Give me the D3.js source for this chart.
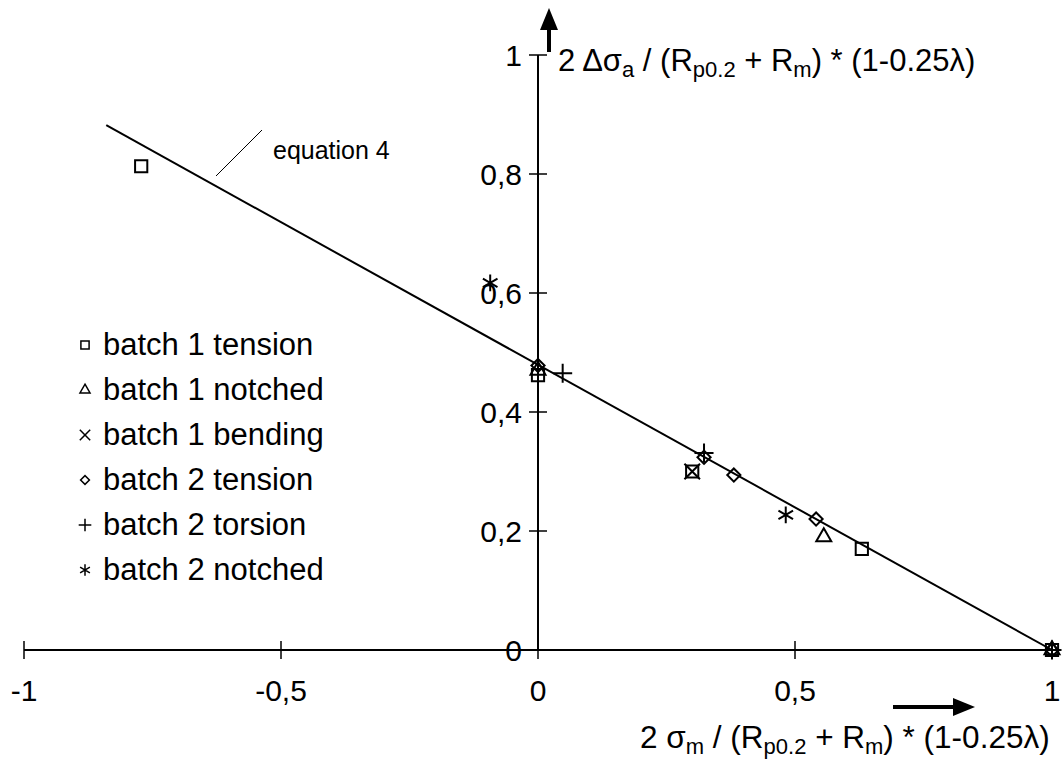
<!DOCTYPE html>
<html>
<head>
<meta charset="utf-8">
<script src="https://cdn.jsdelivr.net/npm/d3@7"></script>
<style>
  body { margin: 0; background: #fff; }
  text { font-family: "Liberation Sans", Arial, sans-serif; fill: #000; }
</style>
</head>
<body>
<svg id="chart"></svg>
<script>
// data
const xTicks = [-1, -0.5, 0, 0.5, 1];
const yTicks = [0, 0.2, 0.4, 0.6, 0.8, 1];

const batch1Tension = [[-0.772, 0.813], [0, 0.462], [0.30, 0.30], [0.63, 0.17], [1, 0]];
const batch1Notched = [[0, 0.47], [0.556, 0.19], [1, 0]];
const batch1Bending = [[0.30, 0.30]];
const batch2Tension = [[0, 0.478], [0.323, 0.324], [0.381, 0.294], [0.541, 0.22], [1, 0]];
const batch2Torsion = [[0.048, 0.465], [0.323, 0.331], [1, 0]];
const batch2Notched = [[-0.093, 0.617], [0.482, 0.227]];

const equationLine = [[-0.84, 0.882], [1, 0]];

const seriesNames = ["batch 1 tension", "batch 1 notched", "batch 1 bending",
                     "batch 2 tension", "batch 2 torsion", "batch 2 notched"];

document.addEventListener('DOMContentLoaded', function() {
    const width = 1063, height = 762;
    const svg = d3.select("#chart").attr("width", width).attr("height", height);

    const x = d3.scaleLinear().domain([-1, 1]).range([24, 1052]);
    const y = d3.scaleLinear().domain([0, 1]).range([650, 55]);
    const fmt = v => String(v).replace(".", ",");

    // x axis
    svg.append("line")
        .attr("x1", x(-1)).attr("x2", x(1))
        .attr("y1", y(0)).attr("y2", y(0))
        .attr("stroke", "#000").attr("stroke-width", 2);
    svg.selectAll(".xtick").data(xTicks).enter().append("line")
        .attr("x1", d => x(d)).attr("x2", d => x(d))
        .attr("y1", y(0) - 9).attr("y2", y(0) + 9)
        .attr("stroke", "#000").attr("stroke-width", 1.5);
    svg.selectAll(".xlab").data(xTicks).enter().append("text")
        .attr("x", d => x(d)).attr("y", 701)
        .attr("text-anchor", "middle")
        .style("font-size", "30px")
        .text(fmt);

    // y axis
    svg.append("line")
        .attr("x1", x(0)).attr("x2", x(0))
        .attr("y1", y(0)).attr("y2", y(1))
        .attr("stroke", "#000").attr("stroke-width", 2);
    svg.selectAll(".ytick").data(yTicks).enter().append("line")
        .attr("x1", x(0) - 9).attr("x2", x(0) + 9)
        .attr("y1", d => y(d)).attr("y2", d => y(d))
        .attr("stroke", "#000").attr("stroke-width", 1.5);
    svg.selectAll(".ylab").data(yTicks).enter().append("text")
        .attr("x", 522).attr("y", d => y(d) + 11)
        .attr("text-anchor", "end")
        .style("font-size", "30px")
        .text(fmt);

    // arrows
    const arrow = (x1, y1, x2, y2) => {
        const ang = Math.atan2(y2 - y1, x2 - x1), L = 22, W = 9;
        const bx = x2 - L * Math.cos(ang), by = y2 - L * Math.sin(ang);
        svg.append("line").attr("x1", x1).attr("y1", y1).attr("x2", bx).attr("y2", by)
            .attr("stroke", "#000").attr("stroke-width", 4);
        svg.append("path")
            .attr("d", `M${x2},${y2}L${bx - W * Math.sin(ang)},${by + W * Math.cos(ang)}L${bx + W * Math.sin(ang)},${by - W * Math.cos(ang)}Z`)
            .attr("fill", "#000");
    };
    arrow(549, 52, 549, 8);
    arrow(893, 707, 975, 707);

    // axis titles, subscripts given as [text]
    const title = (tx, ty, size, parts) => {
        const t = svg.append("text").attr("x", tx).attr("y", ty).style("font-size", size + "px");
        let back = 0;
        parts.forEach(p => {
            if (Array.isArray(p)) {
                t.append("tspan").attr("dy", 6).style("font-size", "22px").text(p[0]);
                back = -6;
            } else {
                t.append("tspan").attr("dy", back).text(p);
                back = 0;
            }
        });
    };
    title(558, 71, 31, ["2 \u0394\u03c3", ["a"], " / (R", ["p0.2"], " + R", ["m"], ") * (1-0.25\u03bb)"]);
    title(640, 748, 31.5, ["2 \u03c3", ["m"], " / (R", ["p0.2"], " + R", ["m"], ") * (1-0.25\u03bb)"]);

    // equation line
    svg.append("path")
        .datum(equationLine)
        .attr("d", d3.line().x(d => x(d[0])).y(d => y(d[1])))
        .attr("fill", "none").attr("stroke", "#000").attr("stroke-width", 2);
    svg.append("line")
        .attr("x1", 216).attr("y1", 176).attr("x2", 262).attr("y2", 130)
        .attr("stroke", "#000").attr("stroke-width", 1);
    svg.append("text").attr("x", 273).attr("y", 159)
        .style("font-size", "25px").text("equation 4");

    // markers
    const shapes = [
        { data: batch1Tension, type: d3.symbolSquare2, size: 190, rot: 0 },
        { data: batch1Notched, type: d3.symbolTriangle2, size: 160, rot: 0 },
        { data: batch1Bending, type: d3.symbolTimes, size: 160, rot: 0 },
        { data: batch2Tension, type: d3.symbolSquare2, size: 110, rot: 45 },
        { data: batch2Torsion, type: d3.symbolPlus, size: 120, rot: 0 },
        { data: batch2Notched, type: d3.symbolAsterisk, size: 200, rot: 0 }
    ];

    shapes.forEach(s => {
        svg.append("g").selectAll("path").data(s.data).enter().append("path")
            .attr("d", d3.symbol().type(s.type).size(s.size))
            .attr("transform", d => `translate(${x(d[0])},${y(d[1])}) rotate(${s.rot})`)
            .attr("fill", "none").attr("stroke", "#000").attr("stroke-width", 2);
    });

    // legend
    const legend = svg.append("g").attr("transform", "translate(85,342)");
    seriesNames.forEach((name, i) => {
        const s = shapes[i];
        legend.append("path")
            .attr("d", d3.symbol().type(s.type).size(s.size * 0.45))
            .attr("transform", `translate(0,${i * 45 + 3}) rotate(${s.rot})`)
            .attr("fill", "none").attr("stroke", "#000").attr("stroke-width", 1.5);
        legend.append("text")
            .attr("x", 18).attr("y", i * 45 + 13)
            .style("font-size", "31px")
            .text(name);
    });
});
</script>
</body>
</html>
